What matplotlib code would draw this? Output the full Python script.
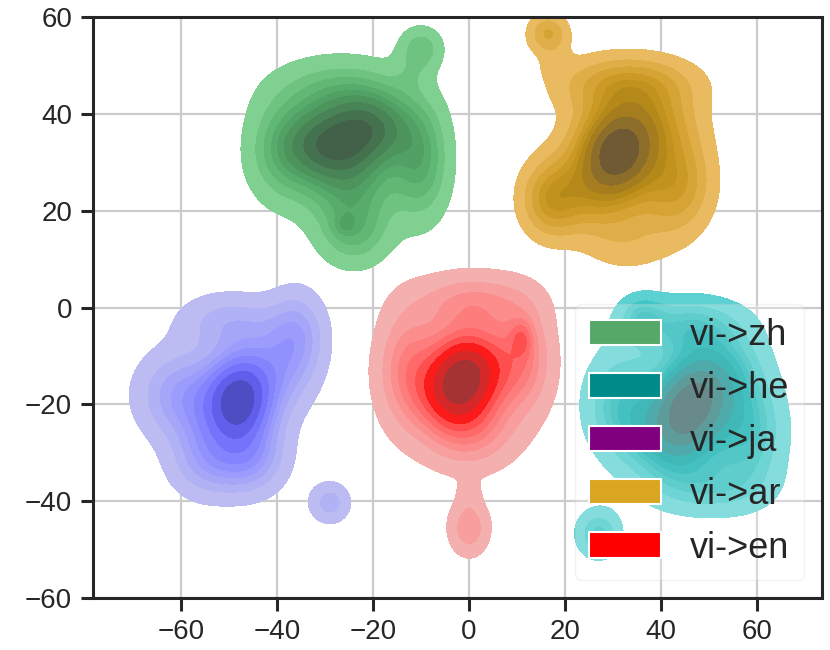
import numpy as np
import matplotlib
matplotlib.use("Agg")
import matplotlib.pyplot as plt
from matplotlib.patches import Patch
from seaborn.external import husl

# ---- data: legend / series ----
labels = ["vi->zh", "vi->he", "vi->ja", "vi->ar", "vi->en"]
legend_colors = ["#55a868", "#008b8b", "#800080", "#daa520", "#ff0000"]
fill_colors = {"vi->zh": "#55a868", "vi->he": "#008b8b", "vi->ja": "#0000ff",
               "vi->ar": "#daa520", "vi->en": "#ff0000"}
draw_order = ["vi->zh", "vi->ja", "vi->en", "vi->ar", "vi->he"]

# Gaussian components: centre x, centre y, sd x, sd y, weight
zh_cx = [-30, -20, -25, -27, -39, -10, -24, -26, -10, -12]
zh_cy = [34, 37, 27, 44, 32, 30, 16, 17, 53.5, 48]
zh_sx = [6, 6, 7, 9, 5, 4, 5, 1.5, 3.0, 2.5]
zh_sy = [5, 5, 6, 5, 7, 8, 5, 1.5, 3.0, 2.5]
zh_w = [0.45, 0.45, 0.45, 0.35, 0.25, 0.3, 0.2, 0.006, 0.06, 0.012]

ar_cx = [31, 27, 35, 43, 17, 33, 33, 18, 16.5]
ar_cy = [32, 25, 38, 26, 22, 13, 46, 50, 56.5]
ar_sx = [5, 7, 7, 5, 4, 6, 9, 2.0, 2.8]
ar_sy = [5, 6, 5, 7, 5, 4, 4, 2.0, 2.8]
ar_w = [0.45, 0.45, 0.35, 0.3, 0.15, 0.06, 0.3, 0.008, 0.05]

ja_cx = [-48, -50, -44, -60, -46, -36, -50, -55, -29]
ja_cy = [-19, -23, -14, -18, -31, -6, -3, -32, -40.3]
ja_sx = [4, 6, 6, 6, 5, 4, 7, 5, 2.8]
ja_sy = [5, 6, 6, 6, 5, 6, 4, 5, 2.8]
ja_w = [0.35, 0.4, 0.4, 0.3, 0.22, 0.2, 0.15, 0.15, 0.045]

en_cx = [0, -3, -1, -13, 11, 0, 11, 0, 1, 0]
en_cy = [-12, -18, -15, -12, -10, -26, -6.5, -45.5, 1, -38.5]
en_sx = [5, 5, 9, 4, 4, 6, 1.5, 2.8, 8, 1.5]
en_sy = [5, 5, 9, 8, 7, 5, 2.5, 3.8, 4, 2.0]
en_w = [0.35, 0.35, 0.6, 0.2, 0.2, 0.15, 0.02, 0.065, 0.2, 0.006]

he_cx = [46, 42, 52, 32, 58, 45, 50, 36, 27]
he_cy = [-20, -27, -14, -20, -26, -4, -37, -2, -46.7]
he_sx = [5, 6, 6, 5, 5, 8, 8, 3, 3.0]
he_sy = [6, 6, 6, 7, 7, 4, 4, 3, 3.3]
he_w = [0.45, 0.35, 0.3, 0.25, 0.25, 0.2, 0.15, 0.04, 0.06]

components = {
    "vi->zh": (zh_cx, zh_cy, zh_sx, zh_sy, zh_w),
    "vi->ar": (ar_cx, ar_cy, ar_sx, ar_sy, ar_w),
    "vi->ja": (ja_cx, ja_cy, ja_sx, ja_sy, ja_w),
    "vi->en": (en_cx, en_cy, en_sx, en_sy, en_w),
    "vi->he": (he_cx, he_cy, he_sx, he_sy, he_w),
}

xticks = [-60, -40, -20, 0, 20, 40, 60]
yticks = [-60, -40, -20, 0, 20, 40, 60]
n_levels = 10
thresh = 0.05


def cmap_from_color(color):
    h, s, _ = husl.rgb_to_husl(*matplotlib.colors.to_rgb(color))
    xx = np.linspace(-1, 1, int(1.15 * 256))[:256]
    ramp = np.zeros((256, 3))
    ramp[:, 0] = h
    ramp[:, 1] = s * np.cos(xx)
    ramp[:, 2] = np.linspace(35, 80, 256)
    cols = np.apply_along_axis(lambda x: husl.husl_to_rgb(*x), 1, ramp)
    cols = np.clip(cols, 0, 1)
    return matplotlib.colors.ListedColormap(cols[::-1])


def quantile_to_level(data, quantile):
    values = np.ravel(data)
    sorted_values = np.sort(values)[::-1]
    normalized = np.cumsum(sorted_values) / values.sum()
    idx = np.searchsorted(normalized, 1 - np.asarray(quantile))
    return np.take(sorted_values, idx, mode="clip")


plt.rcParams["font.family"] = ["Liberation Sans", "DejaVu Sans"]
fig = plt.figure(figsize=(8.3, 6.5), dpi=100)
ax = fig.add_axes([93 / 830, 52 / 650, 729 / 830, 581 / 650])

gx = np.linspace(-85, 80, 420)
gy = np.linspace(-65, 65, 340)
XX, YY = np.meshgrid(gx, gy)

for name in draw_order:
    cx, cy, sx, sy, w = components[name]
    dens = np.zeros_like(XX)
    for a, b, c, d, e in zip(cx, cy, sx, sy, w):
        dens += e * np.exp(-0.5 * (((XX - a) / c) ** 2 + ((YY - b) / d) ** 2)) / (2 * np.pi * c * d)
    levels = quantile_to_level(dens, np.linspace(thresh, 1, n_levels))
    ax.contourf(XX, YY, dens, levels=levels, cmap=cmap_from_color(fill_colors[name]), zorder=2)

ax.set_xlim(-78.3, 73.5)
ax.set_ylim(-60, 60)
ax.set_xticks(xticks)
ax.set_yticks(yticks)
ax.set_xticklabels([f"\u2212{abs(t)}" if t < 0 else str(t) for t in xticks])
ax.set_yticklabels([f"\u2212{abs(t)}" if t < 0 else str(t) for t in yticks])
ax.grid(True, color="#cccccc", linewidth=1.6, zorder=0)
ax.set_axisbelow(True)
for sp in ax.spines.values():
    sp.set_color("#262626")
    sp.set_linewidth(2.2)
ax.tick_params(axis="both", direction="out", length=9, width=2.2, color="#262626",
               labelsize=20, labelcolor="#262626", pad=6)

handles = [Patch(facecolor=c, edgecolor="white", linewidth=1.5, label=l)
           for l, c in zip(labels, legend_colors)]
leg = ax.legend(handles=handles, loc="lower right", fontsize=26, framealpha=0.25,
                edgecolor="#cccccc", fancybox=True)
leg.set_zorder(5)
for t in leg.get_texts():
    t.set_color("#262626")

fig.savefig("out.png", dpi=100)
